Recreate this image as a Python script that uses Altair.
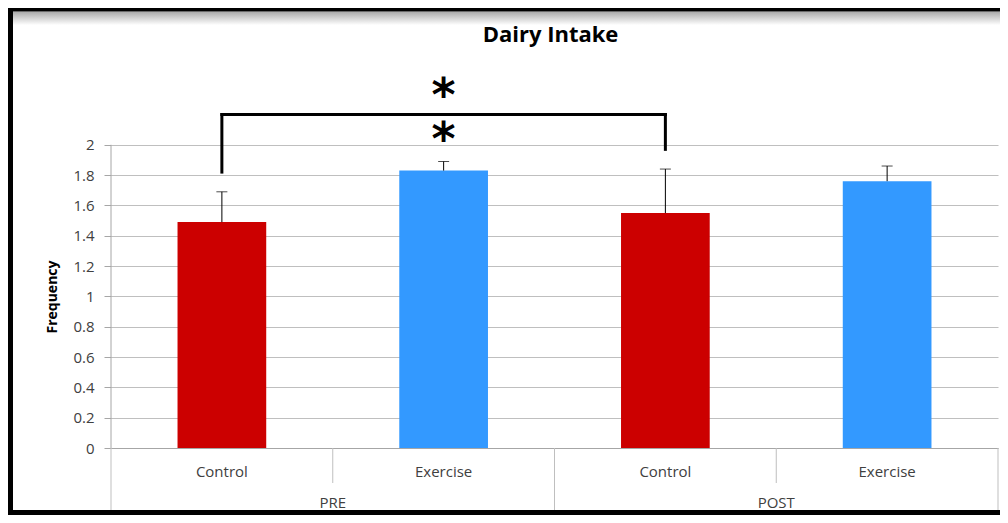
import altair as alt
import pandas as pd

# ---- data ----
times = ["PRE", "PRE", "POST", "POST"]
conditions = ["Control", "Exercise", "Control", "Exercise"]
means = [1.49, 1.83, 1.55, 1.76]
upper = [1.69, 1.89, 1.84, 1.86]
groups = ["PRE", "POST"]
condition_names = ["Control", "Exercise"]
colors = ["#CC0000", "#3399FF"]
y_ticks = [0, 0.2, 0.4, 0.6, 0.8, 1, 1.2, 1.4, 1.6, 1.8, 2]
title_text = "Dairy Intake"

bracket_top = 2.2
bracket_bottoms = [1.82, 1.97]
star_levels = [2.36, 2.07]

keys = [f"{t}|{c}" for t, c in zip(times, conditions)]
df = pd.DataFrame({"key": keys, "time": times, "condition": conditions,
                   "mean": means, "upper": upper})

W, H = 887, 379
YMAX = 2.5
FONT = "Open Sans"

xs = alt.Scale(domain=keys, paddingInner=0.6, paddingOuter=0.3)
ys = alt.Scale(domain=[0, YMAX], nice=False, zero=True)

x_axis = alt.Axis(title=None, labelExpr="split(datum.label,'|')[1]", labelAngle=0,
                  ticks=False, domain=True, domainColor="#a6a6a6", grid=False,
                  labelPadding=23, labelBaseline="middle", labelFont=FONT,
                  labelFontSize=15, labelColor="#404040", labelOverlap=False)
y_axis = alt.Axis(title="Frequency", values=y_ticks, format="~g", domain=False,
                  grid=True, gridColor="#bfbfbf", gridWidth=1, labelOverlap=False,
                  tickColor="#a6a6a6", tickSize=7, labelPadding=10,
                  labelFont=FONT, labelFontSize=15, labelColor="#404040",
                  titleFont=FONT, titleFontSize=14, titleFontWeight="bold",
                  titleColor="#000000", titleAngle=270, titleX=-59, titleY=227.5,
                  titleAlign="center", titleBaseline="middle")


def X(field="key"):
    return alt.X(f"{field}:N", scale=xs, axis=x_axis, sort=keys)


def Y(field):
    return alt.Y(f"{field}:Q", scale=ys, axis=y_axis)


bars = alt.Chart(df).mark_bar().encode(
    x=X(), y=Y("mean"),
    color=alt.Color("condition:N", scale=alt.Scale(domain=condition_names, range=colors),
                    legend=None),
)

err = alt.Chart(df).mark_rule(color="black", strokeWidth=1).encode(
    x=X(), y=Y("mean"), y2="upper:Q")
cap = alt.Chart(df).mark_tick(color="black", size=11, thickness=1).encode(
    x=X(), y=Y("upper"))

legs_df = pd.DataFrame({"key": [keys[0], keys[2]], "bottom": bracket_bottoms,
                        "top": [bracket_top, bracket_top]})
legs = alt.Chart(legs_df).mark_rule(color="black", strokeWidth=3, strokeCap="square").encode(
    x=X(), y=Y("bottom"), y2="top:Q")

hbar_df = pd.DataFrame({"key": [keys[0]], "k2": [keys[2]], "y": [bracket_top]})
hbar = alt.Chart(hbar_df).mark_rule(color="black", strokeWidth=3, strokeCap="square").encode(
    x=X(), x2="k2:N", y=Y("y"))

stars_df = pd.DataFrame({"key": [keys[1]] * 2, "y": star_levels, "t": ["*", "*"]})
stars = alt.Chart(stars_df).mark_text(font="DejaVu Sans", fontWeight="bold", fontSize=46,
                                      baseline="middle", dy=7, color="black").encode(
    x=X(), y=Y("y"), text="t:N")

yline_df = pd.DataFrame({"key": [keys[0]], "y0": [0], "y1": [2]})
yline = alt.Chart(yline_df).mark_rule(color="#a6a6a6").encode(
    x=alt.value(0), y=Y("y0"), y2="y1:Q")

inner = alt.layer(bars, err, cap, legs, hbar, stars, yline)

gs = alt.Scale(domain=groups, paddingInner=0, paddingOuter=0)
gdf = pd.DataFrame({"group": groups})
sep_color = "#bfbfbf"
outer_sep = alt.Chart(gdf).mark_rule(color=sep_color).encode(
    x=alt.X("group:N", scale=gs, axis=None, sort=groups, bandPosition=0),
    y=alt.value(H), y2=alt.value(H + 62))
end_sep = alt.Chart(gdf).transform_filter(alt.datum.group == "POST").mark_rule(color=sep_color).encode(
    x=alt.X("group:N", scale=gs, axis=None, sort=groups, bandPosition=1),
    y=alt.value(H), y2=alt.value(H + 62))
inner_sep = alt.Chart(gdf).mark_rule(color=sep_color).encode(
    x=alt.X("group:N", scale=gs, axis=None, sort=groups, bandPosition=0.5),
    y=alt.value(H), y2=alt.value(H + 35))
group_labels = alt.Chart(gdf).mark_text(font=FONT, fontSize=15, color="#404040",
                                        baseline="middle").encode(
    x=alt.X("group:N", scale=gs, axis=None, sort=groups),
    y=alt.value(H + 55), text="group:N")

one = pd.DataFrame({"a": [0]})
title = alt.Chart(pd.DataFrame({"t": [title_text]})).mark_text(
    font=FONT, fontSize=22, fontWeight="bold", color="black", baseline="middle"
).encode(x=alt.value(W / 2 - 4), y=alt.value(-34), text="t:N")
shadow = alt.Chart(one).mark_rect(fill=alt.Gradient(
    gradient="linear", x1=0, x2=0, y1=0, y2=1,
    stops=[alt.GradientStop(color="#a8a8a8", offset=0),
           alt.GradientStop(color="#ffffff", offset=1)])).encode(
    x=alt.value(-98), x2=alt.value(W + 20), y=alt.value(-57.5), y2=alt.value(-44))
top_line = alt.Chart(one).mark_rule(color="black", strokeWidth=5).encode(
    x=alt.value(-103), x2=alt.value(W + 20), y=alt.value(-60))
left_line = alt.Chart(one).mark_rule(color="black", strokeWidth=5).encode(
    x=alt.value(-100.5), y=alt.value(-62.5), y2=alt.value(H + 80))
bottom_line = alt.Chart(one).mark_rule(color="black", strokeWidth=5).encode(
    x=alt.value(-103), x2=alt.value(W + 20), y=alt.value(H + 64.5))

chart = alt.layer(inner, outer_sep, end_sep, inner_sep, group_labels, title,
                  shadow, top_line, left_line, bottom_line).resolve_scale(
    x="independent"
).resolve_axis(
    x="independent"
).properties(
    width=W, height=H,
    autosize=alt.AutoSizeParams(type="none"),
    padding={"left": 103, "top": 61, "right": 2, "bottom": 67},
    background="white",
).configure_view(stroke=None)

chart.save("out.html", embed_options={"renderer": "svg", "actions": False})
